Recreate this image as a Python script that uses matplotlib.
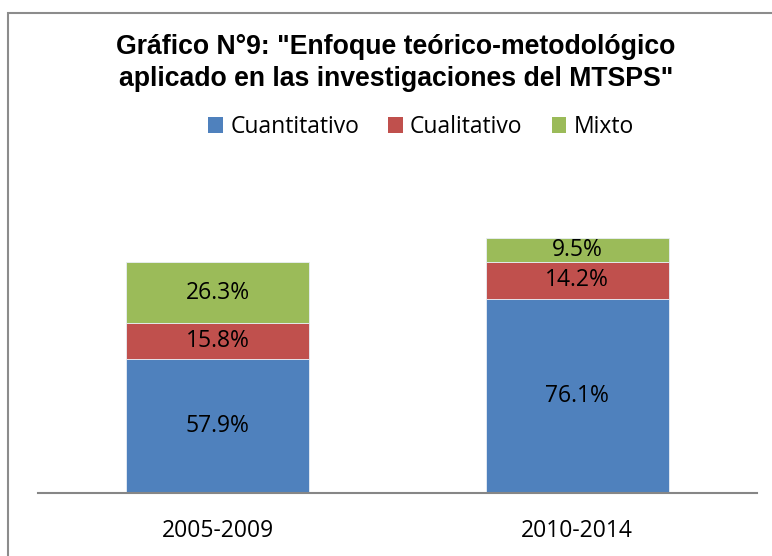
import matplotlib
matplotlib.use("Agg")
import matplotlib.pyplot as plt
from matplotlib.patches import Rectangle, Patch

# data: bar heights are study counts, labels are the printed percentages
periods = ["2005-2009", "2010-2014"]
series = ["Cuantitativo", "Cualitativo", "Mixto"]
cuantitativo = [11, 16]
cualitativo = [3, 3]
mixto = [5, 2]
label_cuanti = ["57.9%", "76.1%"]
label_cuali = ["15.8%", "14.2%"]
label_mixto = ["26.3%", "9.5%"]

colors = ["#4F81BD", "#C0504D", "#9BBB59"]
W, H = 772, 556
LBL_FONT = "Open Sans"

fig = plt.figure(figsize=(W / 100, H / 100), dpi=100)

# outer chart frame (cut off at right/bottom in the reference)
fig.patches.append(Rectangle((8 / W, -0.1), 1.2, 1.1 - 13 / H,
                             transform=fig.transFigure, fill=False,
                             edgecolor="#8c8c8c", linewidth=1.5))

ax = fig.add_axes([38 / W, (H - 493) / H, 719 / W, 300 / H])
x = range(len(periods))
bottoms = [0] * len(periods)
for vals, labels, col in zip([cuantitativo, cualitativo, mixto],
                             [label_cuanti, label_cuali, label_mixto], colors):
    bars = ax.bar(x, vals, width=0.51, bottom=bottoms, color=col,
                  edgecolor="#e8eef6", linewidth=0.6)
    ax.bar_label(bars, labels=labels, label_type="center",
                 fontsize=16.5, family=LBL_FONT, color="black")
    bottoms = [b + v for b, v in zip(bottoms, vals)]

ax.set_xlim(-0.5, 1.5)
ax.set_ylim(0, 24.7)
ax.set_yticks([])
ax.set_xticks(list(x))
ax.set_xticklabels(periods, fontsize=16.5, family=LBL_FONT)
ax.tick_params(axis="x", length=0, pad=19)
for s in ("top", "left", "right"):
    ax.spines[s].set_visible(False)
ax.spines["bottom"].set_color("#868686")
ax.spines["bottom"].set_linewidth(1.5)

fig.text(396 / W, 1 - 63 / H,
         'Gráfico N°9: "Enfoque teórico-metodológico\n'
         'aplicado en las investigaciones del MTSPS"',
         ha="center", va="center", fontsize=19.2, fontweight="bold",
         family="Liberation Sans", linespacing=1.33)

handles = [Patch(facecolor=c) for c in colors]
fig.legend(handles, series, loc="center", bbox_to_anchor=(421 / W, 1 - 127 / H),
           ncol=3, frameon=False, prop={"family": LBL_FONT, "size": 16.5},
           handlelength=0.65, handleheight=0.65, handletextpad=0.3,
           columnspacing=1.27, borderpad=0)

fig.savefig("out.png", dpi=100)
